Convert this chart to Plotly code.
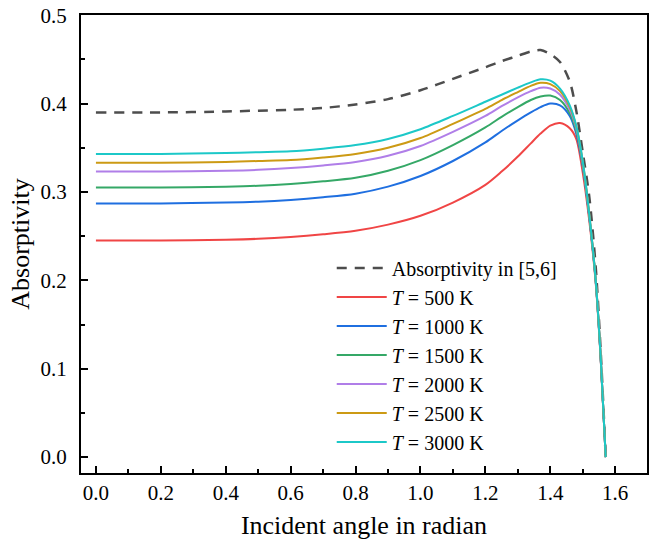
import plotly.graph_objects as go

# incident angle (rad), shared by all curves
angle = [0.0, 0.2, 0.4, 0.5, 0.6, 0.7, 0.8, 0.9, 1.0, 1.1, 1.2, 1.25, 1.3, 1.34,
         1.37, 1.40, 1.43, 1.46, 1.48, 1.50, 1.52, 1.54, 1.555, 1.5708]

ref_56 = [0.390, 0.390, 0.391, 0.392, 0.393, 0.395, 0.399, 0.405, 0.415, 0.428, 0.441, 0.448,
          0.454, 0.459, 0.4605, 0.456, 0.447, 0.425, 0.392, 0.345, 0.295, 0.215, 0.122, 0.0]
t500 = [0.245, 0.245, 0.246, 0.247, 0.249, 0.252, 0.256, 0.263, 0.273, 0.288, 0.308, 0.323,
        0.340, 0.355, 0.366, 0.375, 0.378, 0.372, 0.360, 0.322, 0.268, 0.197, 0.113, 0.0]
t1000 = [0.287, 0.287, 0.288, 0.289, 0.291, 0.294, 0.298, 0.306, 0.318, 0.335, 0.356, 0.369,
         0.381, 0.390, 0.396, 0.400, 0.398, 0.386, 0.366, 0.329, 0.272, 0.199, 0.114, 0.0]
t1500 = [0.305, 0.305, 0.306, 0.307, 0.309, 0.312, 0.316, 0.324, 0.336, 0.353, 0.373, 0.385,
         0.396, 0.404, 0.408, 0.409, 0.404, 0.389, 0.369, 0.331, 0.273, 0.199, 0.115, 0.0]
t2000 = [0.323, 0.323, 0.324, 0.325, 0.327, 0.330, 0.334, 0.341, 0.352, 0.368, 0.386, 0.397,
         0.407, 0.414, 0.418, 0.417, 0.410, 0.393, 0.372, 0.333, 0.274, 0.200, 0.115, 0.0]
t2500 = [0.333, 0.333, 0.334, 0.335, 0.336, 0.339, 0.343, 0.350, 0.361, 0.377, 0.394, 0.404,
         0.413, 0.420, 0.4235, 0.422, 0.414, 0.396, 0.374, 0.334, 0.275, 0.200, 0.115, 0.0]
t3000 = [0.343, 0.343, 0.344, 0.345, 0.346, 0.349, 0.353, 0.360, 0.371, 0.386, 0.402, 0.410,
         0.418, 0.424, 0.4275, 0.426, 0.417, 0.398, 0.375, 0.335, 0.275, 0.200, 0.115, 0.0]

series = [
    ("<i>T</i> = 500 K", t500, "#F04545"),
    ("<i>T</i> = 1000 K", t1000, "#1F6FE0"),
    ("<i>T</i> = 1500 K", t1500, "#35A867"),
    ("<i>T</i> = 2000 K", t2000, "#B07EE8"),
    ("<i>T</i> = 2500 K", t2500, "#CC9A14"),
    ("<i>T</i> = 3000 K", t3000, "#1CC8C8"),
]

serif = "Liberation Serif, Times New Roman, serif"

fig = go.Figure()
fig.add_trace(go.Scatter(x=angle, y=ref_56, mode="lines", name="Absorptivity in [5,6]",
                         line=dict(color="#4D4D4D", width=2.5, dash="10px,8px",
                                   shape="spline", smoothing=0.8)))
for name, vals, col in series:
    fig.add_trace(go.Scatter(x=angle, y=vals, mode="lines", name=name,
                             line=dict(color=col, width=2, shape="spline", smoothing=0.8)))

axis_font = dict(family=serif, size=21, color="black")
fig.update_layout(
    width=652, height=547,
    margin=dict(l=81, r=3, t=15, b=74),
    plot_bgcolor="white", paper_bgcolor="white",
    font=dict(family=serif, size=21, color="black"),
    legend=dict(x=0.443, y=0.49, xanchor="left", yanchor="top",
                bgcolor="rgba(0,0,0,0)", font=dict(family=serif, size=20), tracegroupgap=0,
                itemwidth=50),
)
fig.update_xaxes(
    range=[-0.046, 1.698], tickvals=[0, 0.2, 0.4, 0.6, 0.8, 1.0, 1.2, 1.4, 1.6],
    tickformat=".1f", ticks="inside", ticklen=7, tickwidth=1.5, tickcolor="black",
    minor=dict(ticks="inside", ticklen=4, tickwidth=1.5, dtick=0.1, tick0=0, tickcolor="black"),
    showline=True, linewidth=2, linecolor="black", mirror=True, showgrid=False, zeroline=False,
    tickfont=axis_font, ticklabelstandoff=0,
    title=dict(text="Incident angle in radian", font=dict(family=serif, size=26), standoff=12),
)
fig.update_yaxes(
    range=[-0.018, 0.5002], tickvals=[0, 0.1, 0.2, 0.3, 0.4, 0.5],
    tickformat=".1f", ticks="inside", ticklen=7, tickwidth=1.5, tickcolor="black",
    minor=dict(ticks="inside", ticklen=4, tickwidth=1.5, dtick=0.05, tick0=0, tickcolor="black"),
    showline=True, linewidth=2, linecolor="black", mirror=True, showgrid=False, zeroline=False,
    tickfont=axis_font, ticklabelstandoff=8, ticklabeloverflow="allow",
    title=dict(text="Absorptivity", font=dict(family=serif, size=26), standoff=3),
)

# drop the default 8px page margin so the figure fills the window
fig.write_html("out.html", config={"displayModeBar": False},
               post_script="document.body.style.margin='0';")
